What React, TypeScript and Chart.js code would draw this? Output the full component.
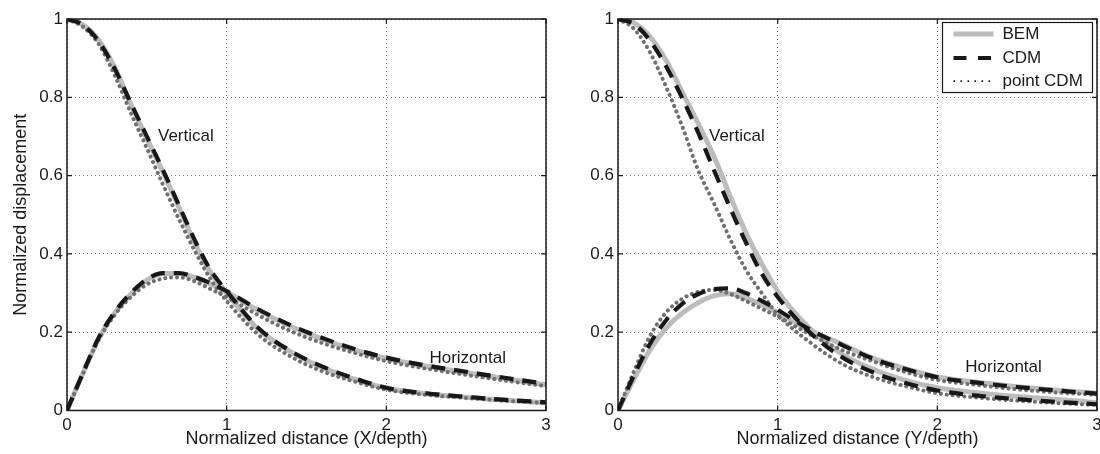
import React, { useEffect, useRef } from 'react';
import { Chart, registerables } from 'chart.js';
Chart.register(...registerables);

// ---------- data ----------
const xs = [0, 0.1, 0.2, 0.3, 0.4, 0.5, 0.6, 0.7, 0.8, 0.9, 1.0, 1.2, 1.4, 1.6, 1.8, 2.0, 2.25, 2.5, 2.75, 3.0];

// Left panel: Normalized distance (X/depth)
const leftBemVertical = [1, 0.985, 0.945, 0.875, 0.782, 0.695, 0.61, 0.52, 0.428, 0.352, 0.3, 0.207, 0.15, 0.11, 0.08, 0.057, 0.043, 0.034, 0.026, 0.02];
const leftCdmVertical = [1, 0.985, 0.942, 0.872, 0.785, 0.7, 0.615, 0.525, 0.435, 0.358, 0.305, 0.21, 0.152, 0.112, 0.082, 0.058, 0.044, 0.035, 0.027, 0.021];
const leftPointVertical = [1, 0.98, 0.935, 0.855, 0.76, 0.67, 0.578, 0.49, 0.408, 0.335, 0.28, 0.193, 0.138, 0.1, 0.074, 0.053, 0.04, 0.032, 0.025, 0.019];
const leftBemHorizontal = [0, 0.095, 0.185, 0.25, 0.297, 0.333, 0.35, 0.35, 0.34, 0.323, 0.303, 0.255, 0.215, 0.182, 0.155, 0.133, 0.113, 0.097, 0.081, 0.066];
const leftCdmHorizontal = [0, 0.096, 0.187, 0.252, 0.3, 0.335, 0.351, 0.351, 0.341, 0.325, 0.305, 0.258, 0.218, 0.185, 0.157, 0.135, 0.115, 0.099, 0.083, 0.068];
const leftPointHorizontal = [0, 0.094, 0.182, 0.245, 0.29, 0.322, 0.337, 0.34, 0.33, 0.31, 0.29, 0.243, 0.203, 0.172, 0.147, 0.126, 0.107, 0.091, 0.076, 0.062];

// Right panel: Normalized distance (Y/depth)
const rightBemVertical = [1, 0.99, 0.955, 0.895, 0.815, 0.735, 0.65, 0.55, 0.455, 0.375, 0.305, 0.21, 0.145, 0.105, 0.077, 0.058, 0.045, 0.036, 0.028, 0.02];
const rightCdmVertical = [1, 0.987, 0.945, 0.88, 0.8, 0.712, 0.615, 0.52, 0.43, 0.35, 0.29, 0.2, 0.137, 0.097, 0.07, 0.051, 0.038, 0.029, 0.022, 0.016];
const rightPointVertical = [1, 0.975, 0.915, 0.828, 0.728, 0.616, 0.53, 0.44, 0.36, 0.3, 0.245, 0.175, 0.12, 0.085, 0.062, 0.044, 0.033, 0.025, 0.019, 0.014];
const rightBemHorizontal = [0, 0.08, 0.155, 0.21, 0.248, 0.275, 0.293, 0.298, 0.287, 0.27, 0.25, 0.205, 0.17, 0.133, 0.107, 0.086, 0.072, 0.061, 0.052, 0.044];
const rightCdmHorizontal = [0, 0.09, 0.17, 0.23, 0.272, 0.297, 0.31, 0.312, 0.3, 0.28, 0.257, 0.207, 0.168, 0.132, 0.106, 0.085, 0.071, 0.06, 0.051, 0.043];
const rightPointHorizontal = [0, 0.1, 0.19, 0.25, 0.285, 0.303, 0.308, 0.298, 0.28, 0.26, 0.24, 0.195, 0.155, 0.125, 0.098, 0.078, 0.065, 0.054, 0.046, 0.04];

const xTicks = [0, 1, 2, 3];
const xTickLabels = ['0', '1', '2', '3'];
const yTicks = [0, 0.2, 0.4, 0.6, 0.8, 1];
const yTickLabels = ['0', '0.2', '0.4', '0.6', '0.8', '1'];

const legendLabels = ['BEM', 'CDM', 'point CDM'];
const curveLabels = ['Vertical', 'Horizontal'];

// ---------- styles ----------
const FONT = '"Liberation Sans", Arial, Helvetica, sans-serif';
const TEXT = '#1a1a1a';
const BEM_COLOR = 'rgb(188,188,188)';
const CDM_COLOR = 'rgb(24,24,24)';
const PT_COLOR = 'rgb(112,112,112)';

const styleBem = { borderColor: BEM_COLOR, borderWidth: 5, borderDash: [] as number[], borderCapStyle: 'butt', order: 3 };
const stylePt = { borderColor: PT_COLOR, borderWidth: 4, borderDash: [0.1, 5.8], borderCapStyle: 'round', order: 2 };
const styleCdm = { borderColor: CDM_COLOR, borderWidth: 4.2, borderDash: [14, 9], borderCapStyle: 'butt', order: 1 };

function series(ys: number[]) {
  return xs.map((x, i) => ({ x, y: ys[i] }));
}

function buildDatasets(bemV: number[], cdmV: number[], ptV: number[], bemH: number[], cdmH: number[], ptH: number[]) {
  const common = { pointRadius: 0, fill: false, cubicInterpolationMode: 'monotone' as const };
  return [
    { ...common, ...styleBem, label: legendLabels[0], data: series(bemV) },
    { ...common, ...styleBem, label: '', data: series(bemH) },
    { ...common, ...styleCdm, label: legendLabels[1], data: series(cdmV) },
    { ...common, ...styleCdm, label: '', data: series(cdmH) },
    { ...common, ...stylePt, label: legendLabels[2], data: series(ptV) },
    { ...common, ...stylePt, label: '', data: series(ptH) },
  ];
}

// frame, inner ticks, text labels, legend box
const framePlugin = {
  id: 'matlabFrame',
  afterDatasetsDraw(chart: any, _args: any, opts: any) {
    const { ctx, chartArea: a, scales } = chart;
    ctx.save();
    ctx.setLineDash([]);
    ctx.strokeStyle = TEXT;
    ctx.lineWidth = 1.5;
    ctx.strokeRect(a.left, a.top, a.right - a.left, a.bottom - a.top);
    const tl = 5;
    ctx.lineWidth = 1.2;
    ctx.beginPath();
    xTicks.forEach((v) => {
      const px = scales.x.getPixelForValue(v);
      ctx.moveTo(px, a.bottom); ctx.lineTo(px, a.bottom - tl);
      ctx.moveTo(px, a.top); ctx.lineTo(px, a.top + tl);
    });
    yTicks.forEach((v) => {
      const py = scales.y.getPixelForValue(v);
      ctx.moveTo(a.left, py); ctx.lineTo(a.left + tl, py);
      ctx.moveTo(a.right, py); ctx.lineTo(a.right - tl, py);
    });
    ctx.stroke();

    ctx.font = `17px ${FONT}`;
    ctx.fillStyle = TEXT;
    ctx.textBaseline = 'middle';
    ctx.textAlign = 'left';
    (opts.labels || []).forEach((l: any) => {
      ctx.fillText(l.text, scales.x.getPixelForValue(l.x), scales.y.getPixelForValue(l.y));
    });

    if (opts.legend) {
      const w = 150, h = 70;
      const bx = a.right - 4.5 - w;
      const by = a.top + 3.5;
      ctx.fillStyle = '#ffffff';
      ctx.fillRect(bx, by, w, h);
      ctx.strokeStyle = TEXT;
      ctx.lineWidth = 1.2;
      ctx.strokeRect(bx, by, w, h);
      const rows = [11.6, 35.4, 58.6];
      const samples = [
        { color: BEM_COLOR, width: 5, dash: [] as number[], cap: 'butt' },
        { color: CDM_COLOR, width: 4, dash: [13, 11.5], cap: 'butt' },
        { color: TEXT, width: 1.6, dash: [1.6, 5.4], cap: 'butt' },
      ];
      ctx.font = `17px ${FONT}`;
      legendLabels.forEach((lab, i) => {
        const y = by + rows[i];
        const s = samples[i];
        ctx.save();
        ctx.strokeStyle = s.color;
        ctx.lineWidth = s.width;
        ctx.lineCap = s.cap;
        ctx.setLineDash(s.dash);
        ctx.beginPath();
        ctx.moveTo(bx + 11, y);
        ctx.lineTo(bx + 51, y);
        ctx.stroke();
        ctx.restore();
        ctx.fillStyle = TEXT;
        ctx.textBaseline = 'middle';
        ctx.fillText(lab, bx + 60, y + 0.5);
      });
    }
    ctx.restore();
  },
};

function makeChart(canvas: HTMLCanvasElement, cfg: any) {
  return new Chart(canvas, {
    type: 'line',
    data: { datasets: cfg.datasets },
    plugins: [framePlugin],
    options: {
      responsive: false,
      animation: false,
      layout: { padding: { left: 0, right: cfg.padRight, top: 19, bottom: 0 } },
      plugins: {
        legend: { display: false },
        tooltip: { enabled: false },
        matlabFrame: { labels: cfg.labels, legend: cfg.legend },
      } as any,
      scales: {
        x: {
          type: 'linear',
          min: 0,
          max: 3,
          afterBuildTicks: (s: any) => { s.ticks = xTicks.map((v) => ({ value: v })); },
          afterFit: (s: any) => { s.height = 43.5; },
          ticks: {
            callback: (v: any) => xTickLabels[xTicks.indexOf(Number(v))] ?? '',
            font: { family: FONT, size: 17 },
            color: TEXT,
            padding: 5,
            maxRotation: 0,
            autoSkip: false,
          },
          grid: { color: 'rgb(130,130,130)', lineWidth: 1, drawTicks: false },
          border: { display: false, dash: [1, 3] },
          title: {
            display: true,
            text: cfg.xTitle,
            font: { family: FONT, size: 18 },
            color: TEXT,
            padding: { top: 0, bottom: 4 },
          },
        },
        y: {
          type: 'linear',
          min: 0,
          max: 1,
          afterBuildTicks: (s: any) => { s.ticks = yTicks.map((v) => ({ value: v })); },
          afterFit: (s: any) => { s.width = cfg.yWidth; },
          ticks: {
            callback: (v: any) => {
              const i = yTicks.findIndex((t) => Math.abs(t - Number(v)) < 1e-6);
              return i >= 0 ? yTickLabels[i] : '';
            },
            font: { family: FONT, size: 17 },
            color: TEXT,
            padding: 4,
            autoSkip: false,
          },
          grid: { color: 'rgb(130,130,130)', lineWidth: 1, drawTicks: false },
          border: { display: false, dash: [1, 3] },
          title: {
            display: !!cfg.yTitle,
            text: cfg.yTitle || '',
            font: { family: FONT, size: 18 },
            color: TEXT,
            padding: { top: 10.5, bottom: 0 },
          },
        },
      },
    } as any,
  });
}

export default function App() {
  const leftRef = useRef<HTMLCanvasElement>(null);
  const rightRef = useRef<HTMLCanvasElement>(null);

  useEffect(() => {
    const left = makeChart(leftRef.current!, {
      datasets: buildDatasets(leftBemVertical, leftCdmVertical, leftPointVertical, leftBemHorizontal, leftCdmHorizontal, leftPointHorizontal),
      padRight: 14,
      yWidth: 67,
      xTitle: 'Normalized distance (X/depth)',
      yTitle: 'Normalized displacement',
      labels: [
        { text: curveLabels[0], x: 0.57, y: 0.7 },
        { text: curveLabels[1], x: 2.27, y: 0.134 },
      ],
      legend: false,
    });
    const right = makeChart(rightRef.current!, {
      datasets: buildDatasets(rightBemVertical, rightCdmVertical, rightPointVertical, rightBemHorizontal, rightCdmHorizontal, rightPointHorizontal),
      padRight: 13,
      yWidth: 58,
      xTitle: 'Normalized distance (Y/depth)',
      yTitle: '',
      labels: [
        { text: curveLabels[0], x: 0.57, y: 0.7 },
        { text: curveLabels[1], x: 2.175, y: 0.111 },
      ],
      legend: true,
    });
    return () => {
      left.destroy();
      right.destroy();
    };
  }, []);

  return (
    <div style={{ position: 'absolute', left: 0, top: 0, width: 1100, height: 454, overflow: 'hidden', background: '#fff' }}>
      <canvas ref={leftRef} width={560} height={454} style={{ position: 'absolute', left: 0, top: 0, width: 560, height: 454 }} />
      <canvas ref={rightRef} width={550} height={454} style={{ position: 'absolute', left: 560, top: 0, width: 550, height: 454 }} />
    </div>
  );
}
